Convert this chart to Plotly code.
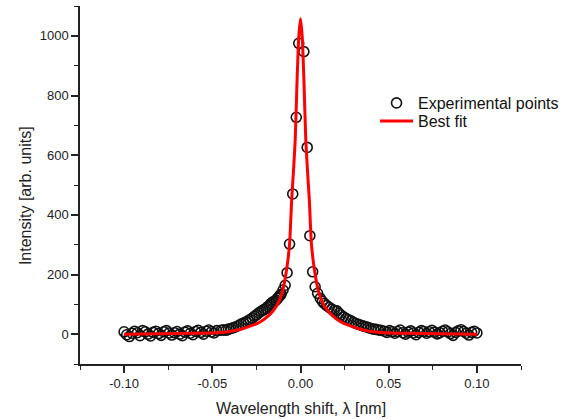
import plotly.graph_objects as go

# Experimental points (wavelength shift in nm, intensity in arb. units)
exp_x = [
    -0.1000, -0.0985, -0.0970, -0.0955, -0.0940, -0.0925, -0.0910, -0.0895, -0.0880, -0.0865,
    -0.0850, -0.0835, -0.0820, -0.0805, -0.0790, -0.0775, -0.0760, -0.0745, -0.0730, -0.0715,
    -0.0700, -0.0685, -0.0670, -0.0655, -0.0640, -0.0625, -0.0610, -0.0595, -0.0580, -0.0565,
    -0.0550, -0.0535, -0.0520, -0.0505, -0.0490, -0.0475,
    -0.0450, -0.0436, -0.0422, -0.0408, -0.0394, -0.0380, -0.0365, -0.0351, -0.0337, -0.0323,
    -0.0309, -0.0297, -0.0286, -0.0273, -0.0261, -0.0249, -0.0237, -0.0225, -0.0214, -0.0205,
    -0.0195, -0.0186, -0.0176, -0.0167, -0.0157, -0.0147, -0.0138, -0.0130, -0.0123, -0.0116,
    -0.0110, -0.0099, -0.0087, -0.0076, -0.0062, -0.0044, -0.0024, -0.0010,
    0.0019, 0.0038, 0.0053, 0.0069, 0.0083, 0.0097, 0.0112, 0.0124, 0.0135, 0.0149,
    0.0163, 0.0177, 0.0191, 0.0206, 0.0218, 0.0229, 0.0243, 0.0257, 0.0271, 0.0286,
    0.0300, 0.0314, 0.0328, 0.0343, 0.0357, 0.0371, 0.0385, 0.0400, 0.0414, 0.0428,
    0.0442, 0.0456,
    0.0475, 0.0490, 0.0505, 0.0520, 0.0535, 0.0550, 0.0565, 0.0580, 0.0595, 0.0610,
    0.0625, 0.0640, 0.0655, 0.0670, 0.0685, 0.0700, 0.0715, 0.0730, 0.0745, 0.0760,
    0.0775, 0.0790, 0.0805, 0.0820, 0.0835, 0.0850, 0.0865, 0.0880, 0.0895, 0.0910,
    0.0925, 0.0940, 0.0955, 0.0970, 0.0985, 0.1000,
]
exp_y = [
    8, -2, -8, 3, 10, 5, -5, 12, 8, 0,
    -6, 6, 10, 2, -4, 8, 12, 4, -3, 5,
    9, 0, -5, 7, 11, 3, -2, 9, 13, 6,
    0, 10, 14, 8, 4, 12,
    13, 15, 13, 17, 19, 22, 25, 29, 34, 37,
    41, 45, 49, 54, 60, 65, 71, 76, 80, 83,
    86, 92, 97, 103, 108, 111, 114, 120, 125, 130,
    134, 148, 164, 206, 302, 470, 727, 975,
    947, 626, 330, 209, 159, 137, 120, 110, 103, 96,
    90, 84, 80, 78, 70, 64, 58, 53, 49, 45,
    40, 36, 33, 30, 27, 25, 22, 19, 17, 16,
    14, 13,
    10, 6, 12, 8, 3, 9, 14, 5, 0, 7,
    11, 4, -2, 6, 12, 9, 3, 8, 13, 7,
    1, 5, 10, 14, 8, 2, -4, 6, 11, 15,
    9, 3, -3, 6, 10, 4,
]

# Best-fit curve
fit_x = [
    -0.1000, -0.0800, -0.0600, -0.0456, -0.0400, -0.0324, -0.0270, -0.0229, -0.0176, -0.0153,
    -0.0130, -0.0105, -0.0080, -0.0062, -0.0050, -0.0040, -0.0030, -0.0020, -0.0010, 0.0000,
    0.0010, 0.0020, 0.0030, 0.0040, 0.0050, 0.0062, 0.0080, 0.0105, 0.0130, 0.0153,
    0.0176, 0.0229, 0.0270, 0.0324, 0.0400, 0.0456, 0.0600, 0.0800, 0.1000,
]
fit_y = [
    0, 1, 3, 6, 9, 19, 30, 41, 65, 80,
    100, 137, 212, 302, 450, 545, 651, 840, 995, 1057,
    995, 840, 651, 545, 450, 302, 212, 137, 100, 80,
    65, 41, 30, 19, 9, 6, 3, 1, 0,
]

x_tickvals = [-0.10, -0.05, 0.00, 0.05, 0.10]
x_ticktext = ["-0.10", "-0.05", "0.00", "0.05", "0.10"]
y_tickvals = [0, 200, 400, 600, 800, 1000]

FONT = "Liberation Sans, Arial, sans-serif"

fig = go.Figure()
fig.add_trace(go.Scatter(
    x=exp_x, y=exp_y, mode="markers", name="Experimental points", legend="legend",
    marker=dict(symbol="circle-open", size=10, color="#111111", line=dict(width=1.6, color="#111111")),
))
fig.add_trace(go.Scatter(
    x=fit_x, y=fit_y, mode="lines", name="Best fit", legend="legend2",
    line=dict(color="#ff0000", width=3, shape="spline", smoothing=0.6),
))

axis_common = dict(
    showgrid=False, zeroline=False, showline=True, linecolor="#222222", linewidth=1.5,
    ticks="outside", ticklen=7, tickwidth=1.5, tickcolor="#222222",
    tickfont=dict(family=FONT, size=13, color="#222222"),
    mirror=False, automargin=False,
)
legend_common = dict(
    x=0.669, xanchor="left", yanchor="top", itemwidth=33,
    font=dict(family=FONT, size=16, color="#111111"),
    bgcolor="rgba(0,0,0,0)",
)
fig.update_layout(
    width=565, height=419,
    margin=dict(l=80, r=44, t=6, b=55, autoexpand=False),
    paper_bgcolor="white", plot_bgcolor="white",
    font=dict(family=FONT, color="#222222"),
    showlegend=True,
    legend=dict(y=0.7765, **legend_common),
    legend2=dict(y=0.726, **legend_common),
    xaxis=dict(
        range=[-0.125, 0.125], tickvals=x_tickvals, ticktext=x_ticktext,
        minor=dict(ticks="outside", ticklen=4, tickwidth=1.2, tickcolor="#222222", dtick=0.025, tick0=0),
        **axis_common,
    ),
    yaxis=dict(
        range=[-100, 1100], tickvals=y_tickvals,
        minor=dict(ticks="outside", ticklen=4, tickwidth=1.2, tickcolor="#222222", dtick=100, tick0=0),
        **axis_common,
    ),
    annotations=[
        dict(text="Wavelength shift, λ [nm]", xref="paper", yref="paper",
             x=0.5, y=-0.123, xanchor="center", yanchor="middle", showarrow=False,
             font=dict(family=FONT, size=16, color="#222222")),
        dict(text="Intensity [arb. units]", xref="paper", yref="paper",
             x=-0.1247, y=0.469, xanchor="center", yanchor="middle", showarrow=False,
             textangle=-90, font=dict(family=FONT, size=16, color="#222222")),
    ],
)

fig.write_html("out.html")
